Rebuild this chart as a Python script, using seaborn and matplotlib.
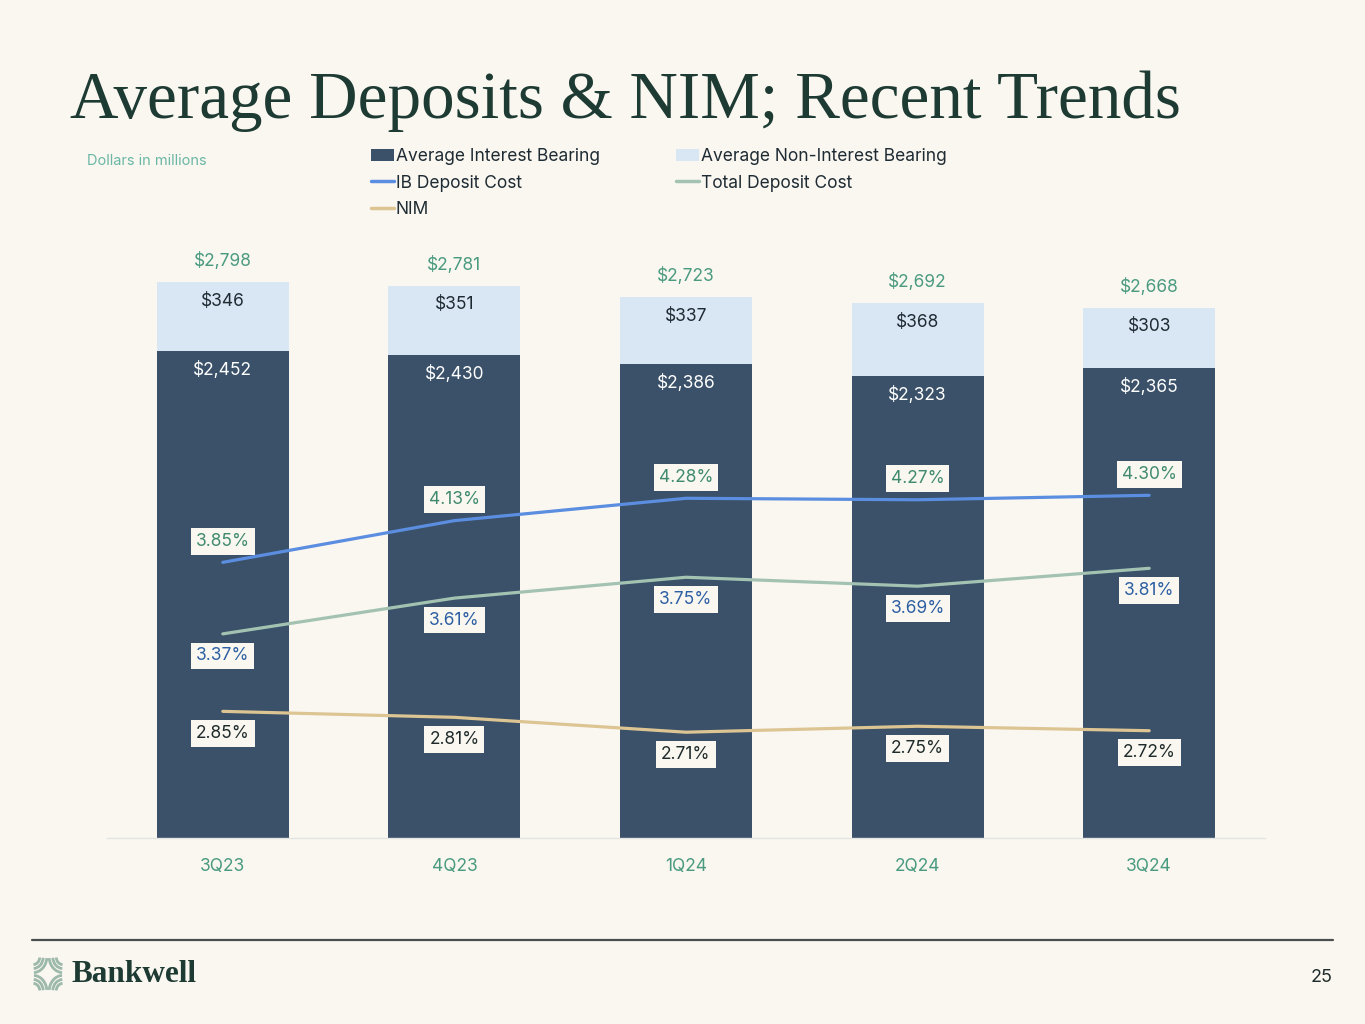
import matplotlib
matplotlib.use("Agg")
import matplotlib.pyplot as plt
import seaborn as sns
import pandas as pd
from matplotlib.patches import Patch, Arc
from matplotlib.lines import Line2D

# ---- data ----
quarters = ["3Q23", "4Q23", "1Q24", "2Q24", "3Q24"]
interest_bearing = [2452, 2430, 2386, 2323, 2365]
non_interest_bearing = [346, 351, 337, 368, 303]
total_deposits = [2798, 2781, 2723, 2692, 2668]
ib_deposit_cost = [3.85, 4.13, 4.28, 4.27, 4.30]
total_deposit_cost = [3.37, 3.61, 3.75, 3.69, 3.81]
nim = [2.85, 2.81, 2.71, 2.75, 2.72]

# ---- style ----
BG = "#faf7f1"
DARK = "#3a5169"
LIGHT = "#d9e7f5"
C_IB = "#5b8ee0"
C_TOT = "#a3c2b2"
C_NIM = "#dcc592"
TEAL = "#4a9a80"
TITLE_C = "#1d3a33"

sns.set_theme(style="white")
plt.rcParams["font.family"] = ["Inter", "DejaVu Sans"]

W, H = 1365, 1024
fig = plt.figure(figsize=(W / 100, H / 100), dpi=100, facecolor=BG)

ax = fig.add_axes([107 / W, 1 - 838 / H, 1158 / W, 596 / H])
ax.set_facecolor(BG)

df = pd.DataFrame({"quarter": quarters, "ib": interest_bearing,
                   "total": total_deposits, "nib": non_interest_bearing})

sns.barplot(data=df, x="quarter", y="total", color=LIGHT, saturation=1,
            width=0.57, linewidth=0, edgecolor="none", ax=ax)
sns.barplot(data=df, x="quarter", y="ib", color=DARK, saturation=1,
            width=0.57, linewidth=0, edgecolor="none", ax=ax)
ax.set_ylim(0, 3000)
ax.set_xlim(-0.5, 4.5)
ax.set_xlabel("")
ax.set_ylabel("")
ax.set_yticks([])
for s in ["left", "right", "top"]:
    ax.spines[s].set_visible(False)
ax.spines["bottom"].set_color("#e3e3df")
ax.spines["bottom"].set_linewidth(1.0)
ax.tick_params(axis="x", length=0, pad=14.5, labelsize=12.5, labelcolor=TEAL)

PX = 0.72  # points per pixel
for i in range(len(quarters)):
    ax.annotate(f"${total_deposits[i]:,}", (i, total_deposits[i]),
                xytext=(0, 21 * PX), textcoords="offset points",
                ha="center", va="center", fontsize=12.5, color=TEAL)
    ax.annotate(f"${non_interest_bearing[i]:,}", (i, total_deposits[i]),
                xytext=(0, -19 * PX), textcoords="offset points",
                ha="center", va="center", fontsize=12.5, color="#1e2b33")
    ax.annotate(f"${interest_bearing[i]:,}", (i, interest_bearing[i]),
                xytext=(0, -19 * PX), textcoords="offset points",
                ha="center", va="center", fontsize=12.5, color="white")

ax2 = ax.twinx()
ax2.set_ylim(2, 6)
ax2.set_yticks([])
for s in ["left", "right", "top", "bottom"]:
    ax2.spines[s].set_visible(False)
xs = list(range(len(quarters)))
sns.lineplot(x=xs, y=ib_deposit_cost, color=C_IB, linewidth=2.3, ax=ax2)
sns.lineplot(x=xs, y=total_deposit_cost, color=C_TOT, linewidth=2.3, ax=ax2)
sns.lineplot(x=xs, y=nim, color=C_NIM, linewidth=2.3, ax=ax2)
ax2.set_xlim(-0.5, 4.5)

box = dict(boxstyle="square,pad=0.28", fc=BG, ec="none")
for i in xs:
    ax2.annotate(f"{ib_deposit_cost[i]:.2f}%", (i, ib_deposit_cost[i]),
                 xytext=(0, 21 * PX), textcoords="offset points",
                 ha="center", va="center", fontsize=12.5, color="#3f8a6e",
                 bbox=box)
    ax2.annotate(f"{total_deposit_cost[i]:.2f}%", (i, total_deposit_cost[i]),
                 xytext=(0, -22 * PX), textcoords="offset points",
                 ha="center", va="center", fontsize=12.5, color="#2d5fa3",
                 bbox=box)
    ax2.annotate(f"{nim[i]:.2f}%", (i, nim[i]),
                 xytext=(0, -22 * PX), textcoords="offset points",
                 ha="center", va="center", fontsize=12.5, color="#1e2b2a",
                 bbox=box)

# ---- legend ----
handles = [
    Patch(facecolor=DARK, edgecolor="none", label="Average Interest Bearing"),
    Line2D([0], [0], color=C_IB, lw=2.5, label="IB Deposit Cost"),
    Line2D([0], [0], color=C_NIM, lw=2.5, label="NIM"),
    Patch(facecolor=LIGHT, edgecolor="none", label="Average Non-Interest Bearing"),
    Line2D([0], [0], color=C_TOT, lw=2.5, label="Total Deposit Cost"),
]
fig.legend(handles=handles, ncol=2, loc="upper left",
           bbox_to_anchor=(371 / W, 1 - 148 / H), frameon=False,
           fontsize=12.5, labelcolor="#1e2b33", handlelength=1.3,
           handletextpad=0.12, columnspacing=4.4, labelspacing=0.55,
           borderaxespad=0, borderpad=0)

# ---- titles & decorations ----
fig.text(70 / W, 1 - 118 / H, "Average Deposits & NIM; Recent Trends",
         family=["Liberation Serif", "DejaVu Serif"], fontsize=48.3,
         color=TITLE_C, ha="left", va="baseline")
fig.text(87 / W, 1 - 161 / H, "Dollars in millions", fontsize=10.5,
         color="#6bb7a5", ha="left", va="center")

fig.add_artist(Line2D([32 / W, 1333 / W], [1 - 940 / H, 1 - 940 / H],
                      color="#4a504d", lw=1.6))
fig.text(72 / W, 1 - 974 / H, "Bankwell",
         family=["Liberation Serif", "DejaVu Serif"], fontsize=22.5,
         fontweight="bold", color=TITLE_C, ha="left", va="center")
fig.text(1333 / W, 1 - 977 / H, "25", fontsize=13, color="#1e2b2a",
         ha="right", va="center")

# logo mark: nested concave-star arcs
SAGE = "#9db9a9"
lax = fig.add_axes([33 / W, 1 - 991 / H, 30 / W, 34 / H])
lax.set_xlim(-1, 1)
lax.set_ylim(-1, 1)
lax.axis("off")
corners = [((1, 1), 180, 270), ((-1, 1), 270, 360),
           ((-1, -1), 0, 90), ((1, -1), 90, 180)]
for (cx, cy), t1, t2 in corners:
    for r in (0.45, 0.68, 0.92):
        lax.add_patch(Arc((cx, cy), 2 * r, 2 * r, theta1=t1 + 4, theta2=t2 - 4,
                          color=SAGE, lw=2.0))

fig.savefig("out.png", dpi=100, facecolor=BG)
